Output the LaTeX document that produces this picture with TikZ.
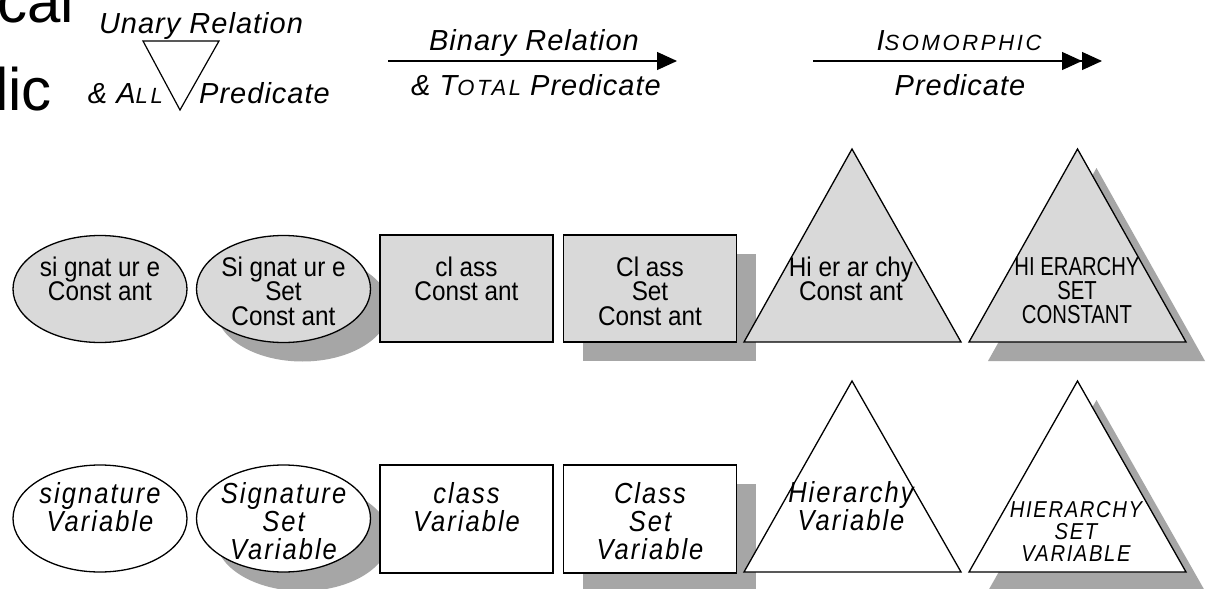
\documentclass[tikz,border=0pt]{standalone}
\usepackage{fontspec}
\setmainfont{Liberation Sans}
\newfontfamily\nodefont[FakeStretch=0.9]{Liberation Sans}
\newfontfamily\narrowcaps[FakeStretch=0.78]{Liberation Sans}
\newfontfamily\airy[FakeStretch=0.88, LetterSpace=7]{Liberation Sans}
\newfontfamily\lblfont[LetterSpace=3.5]{Liberation Sans}
\newfontfamily\capsfont[LetterSpace=12]{Liberation Sans}
\usetikzlibrary{arrows.meta,shapes.geometric,shadows}

\definecolor{constfill}{HTML}{D9D9D9}
\definecolor{shadowgray}{HTML}{A6A6A6}

% reduced capitals for the predicate names
\newcommand{\lowcaps}[1]{{\capsfont\itshape\fontsize{22}{22}\selectfont #1}}

\tikzset{
  outline/.style={draw=black, line width=1.3pt},
  constshape/.style={outline, fill=constfill},
  varshape/.style={outline, fill=white},
  oval/.style={ellipse, minimum width=174pt, minimum height=107pt, inner sep=0pt},
  card/.style={rectangle, minimum width=173pt, minimum height=107pt, inner sep=0pt},
  cast/.style={drop shadow={shadow xshift=19pt, shadow yshift=-19pt, fill=shadowgray, opacity=1}},
  ctext/.style={font=\nodefont\fontsize{27}{24.5}\selectfont, align=center, anchor=north, inner sep=0pt},
  capstext/.style={font=\narrowcaps\fontsize{26}{24}\selectfont, align=center, anchor=north, inner sep=0pt},
  vtext/.style={font=\airy\itshape\fontsize{29}{28}\selectfont, align=center, anchor=north, inner sep=0pt},
  vcapstext/.style={font=\airy\itshape\fontsize{23}{22}\selectfont, align=center, anchor=north, inner sep=0pt},
  lbl/.style={font=\lblfont\itshape\fontsize{29}{30}\selectfont, inner sep=0pt, anchor=base},
  bigword/.style={font=\fontsize{60}{64}\selectfont, inner sep=0pt, anchor=base west},
  relline/.style={line width=1.2pt},
  onehead/.style={-{Triangle[length=20pt,width=18pt]}},
  twohead/.style={-{Triangle[length=20pt,width=18pt,sep=0pt]Triangle[length=20pt,width=18pt]}}
}

\begin{document}
\begin{tikzpicture}[x=1pt, y=-1pt]
\useasboundingbox (0,0) rectangle (1219,589);
\fill[white] (0,0) rectangle (1219,589);

% heading words running in from the left edge
\node[bigword] (wordtop) at (-3,22) {cal};
\node[bigword] (wordbot) at (-5,110) {lic};

% unary relation legend
\node[lbl] (unary) at (201,33) {Unary Relation};
\draw[outline, line width=1.2pt, line join=miter] (143,41) -- (219,41) -- (180,110) -- cycle;
\node[lbl, anchor=base east] (allq) at (163,103) {\& A\lowcaps{LL}};
\node[lbl, anchor=base west] (unpred) at (199,103) {Predicate};

% binary relation legend
\node[lbl] (binrel) at (534,50) {Binary Relation};
\coordinate (binfrom) at (388,61);
\coordinate (binto) at (677,61);
\draw[relline, onehead] (binfrom) -- (binto);
\node[lbl] (totalp) at (536,95) {\& T\lowcaps{OTAL} Predicate};

% isomorphic legend
\node[lbl] (isorel) at (959,50) {I\lowcaps{SOMORPHIC}};
\coordinate (isofrom) at (813,61);
\coordinate (isoto) at (1102,61);
\draw[relline, twohead] (isofrom) -- (isoto);
\node[lbl] (isopred) at (960,95) {Predicate};

% ---------- constants ----------
\node[oval, constshape] (sigC) at (100,289) {};
\node[ctext] (sigCt) at (100,256.5) {si gnat ur e\\Const ant};

\node[oval, constshape, cast] (sigsetC) at (283.5,289) {};
\node[ctext] (sigsetCt) at (283.5,256.5) {Si gnat ur e\\Set\\Const ant};

\node[card, constshape] (clsC) at (466.5,288.5) {};
\node[ctext] (clsCt) at (466.5,256.5) {cl ass\\Const ant};

\node[card, constshape, cast] (clssetC) at (650,288.5) {};
\node[ctext] (clssetCt) at (650,256.5) {Cl ass\\Set\\Const ant};

\draw[constshape, line join=miter] (852,149) -- (961,342) -- (744,342) -- cycle;
\node[ctext] (hierCt) at (851,256.5) {Hi er ar chy\\Const ant};

\fill[shadowgray] (1096.5,168) -- (1205,361) -- (988,361) -- cycle;
\draw[constshape, line join=miter] (1077.5,149) -- (1186,342) -- (969,342) -- cycle;
\node[capstext] (hiersetCt) at (1077,257) {HI ERARCHY\\SET\\CONSTANT};

% ---------- variables ----------
\node[oval, varshape] (sigV) at (100,518.5) {};
\node[vtext] (sigVt) at (100,482) {signature\\Variable};

\node[oval, varshape, cast] (sigsetV) at (283.5,518.5) {};
\node[vtext] (sigsetVt) at (283.5,482) {Signature\\Set\\Variable};

\node[card, varshape, minimum height=108pt] (clsV) at (466.5,519) {};
\node[vtext] (clsVt) at (466.5,482) {class\\Variable};

\node[card, varshape, cast, minimum height=108pt] (clssetV) at (650,519) {};
\node[vtext] (clssetVt) at (650,482) {Class\\Set\\Variable};

\draw[varshape, line join=miter] (852,381) -- (961,572) -- (744,572) -- cycle;
\node[vtext] (hierVt) at (851,481) {Hierarchy\\Variable};

\fill[shadowgray] (1096.5,400) -- (1205,591) -- (988,591) -- cycle;
\draw[varshape, line join=miter] (1077.5,381) -- (1186,572) -- (969,572) -- cycle;
\node[vcapstext] (hiersetVt) at (1076,501.5) {HIERARCHY\\SET\\VARIABLE};
\end{tikzpicture}
\end{document}
